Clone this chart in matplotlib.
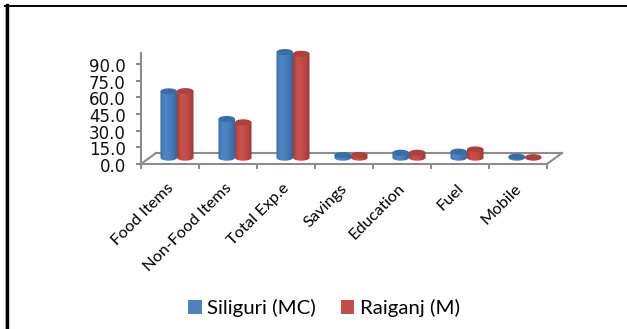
import numpy as np
import matplotlib
matplotlib.use('Agg')
import matplotlib.pyplot as plt
from matplotlib.patches import PathPatch, Rectangle
from matplotlib.path import Path
from matplotlib.transforms import Affine2D
from matplotlib.colors import LinearSegmentedColormap

categories = ['Food Items', 'Non-Food Items', 'Total Exp.e', 'Savings', 'Education', 'Fuel', 'Mobile']
siliguri = [59.8, 34.9, 95.2, 2.5, 4.5, 5.5, 1.0]
raiganj = [60.0, 31.9, 93.7, 2.5, 4.5, 7.5, 0.5]
yticks = [0, 15, 30, 45, 60, 75, 90]

W, H = 627, 329
fig = plt.figure(figsize=(W / 100, H / 100), dpi=100, facecolor='white')

# axes box in pixels: x 141-547, y 53-164
ax = fig.add_axes([141 / W, 1 - 164 / H, 406 / W, 111 / H])
ax.set_xlim(0, 7)
ax.set_ylim(0, 111 / 1.11)
ax.patch.set_visible(False)

grey = '#8c8c8c'
for s in ['top', 'right']:
    ax.spines[s].set_visible(False)
for s in ['left', 'bottom']:
    ax.spines[s].set_color(grey)
    ax.spines[s].set_linewidth(1.5)

ax.set_yticks(yticks)
ax.set_yticklabels(['%.1f' % v for v in yticks], fontsize=12, color='#111111')
ax.set_xticks(range(8))
ax.set_xticklabels([])
ax.tick_params(axis='both', color=grey, width=1.5, length=3.5)
ax.tick_params(axis='y', pad=7.5)
for lab in ax.get_yticklabels():
    lab.set_transform(lab.get_transform() + Affine2D().translate(0, -1))

# floor of the fake 3d box
floor_dx, floor_dy = 15, 11
floor = ax.transData + Affine2D().translate(floor_dx, floor_dy)
ax.plot([0, 7], [0, 0], color=grey, lw=1.5, transform=floor, clip_on=False)
for x in [0, 7]:
    x0, y0 = ax.transData.transform((x, 0))
    ax.plot([x0, x0 + floor_dx], [y0, y0 + floor_dy], color=grey, lw=1.5,
            transform=None, clip_on=False)

for i, c in enumerate(categories):
    ax.text(i + 0.52, -20, c, rotation=45, ha='right', va='center', rotation_mode='anchor',
            fontsize=11.8, family='Lato', color='black', clip_on=False)

# bars sit a little behind the front edge
shift = ax.transData + Affine2D().translate(7, 6.3)
bar_w = 0.285
cap = 2.7

blue_side = LinearSegmentedColormap.from_list('b', ['#3a6ca6', '#4f86c6', '#4c82c0', '#4377b3', '#34649c'])
red_side = LinearSegmentedColormap.from_list('r', ['#a53e3b', '#c9504d', '#c44e4b', '#b54643', '#9c3936'])
grad = np.linspace(0, 1, 64).reshape(1, -1)


def cylinder(x0, val, cmap, cap_col):
    xm, r = x0 + bar_w / 2, bar_w / 2
    t = np.linspace(np.pi, 2 * np.pi, 30)
    low = np.c_[xm + r * np.cos(t), cap * np.sin(t)]
    up = np.c_[xm + r * np.cos(t[::-1]), np.full(30, val)]
    side = np.vstack([low, up, low[:1]])
    patch = PathPatch(Path(side), fc='none', ec='none', transform=shift, clip_on=False)
    ax.add_patch(patch)
    im = ax.imshow(grad, cmap=cmap, aspect='auto', extent=[x0, x0 + bar_w, -cap, val + cap],
                   transform=shift, zorder=3)
    im.set_clip_path(patch)
    tt = np.linspace(0, 2 * np.pi, 40)
    top = np.c_[xm + r * np.cos(tt), val + cap * np.sin(tt)]
    ax.add_patch(PathPatch(Path(top), fc=cap_col, ec='none', transform=shift, zorder=4, clip_on=False))


for i in range(len(categories)):
    c = i + 0.5
    cylinder(c - bar_w, siliguri[i], blue_side, '#3a6ca6')
    cylinder(c, raiganj[i], red_side, '#a94240')
ax.set_xlim(0, 7)
ax.set_ylim(0, 111 / 1.11)

# legend
handles = [Rectangle((0, 0), 1, 1, fc='#4f81bd'), Rectangle((0, 0), 1, 1, fc='#c0504d')]
leg = fig.legend(handles, ['Siliguri (MC)', 'Raiganj (M)'], loc='center', ncol=2,
                 bbox_to_anchor=(324 / W, 1 - 308 / H), frameon=False,
                 prop={'family': 'Lato', 'size': 14.7}, handlelength=0.65, handleheight=0.65,
                 handletextpad=0.25, columnspacing=1.25)

# page border, only left and top
fig.add_artist(plt.Line2D([4.5 / W, 4.5 / W], [0, 1 - 5 / H], color='#c0c0c0', lw=0.8))
fig.add_artist(plt.Line2D([6.5 / W, 6.5 / W], [0, 1 - 5 / H], color='black', lw=2.4))
fig.add_artist(plt.Line2D([5 / W, 1], [1 - 5.8 / H, 1 - 5.8 / H], color='black', lw=1.4))

fig.savefig('out.png', dpi=100)
